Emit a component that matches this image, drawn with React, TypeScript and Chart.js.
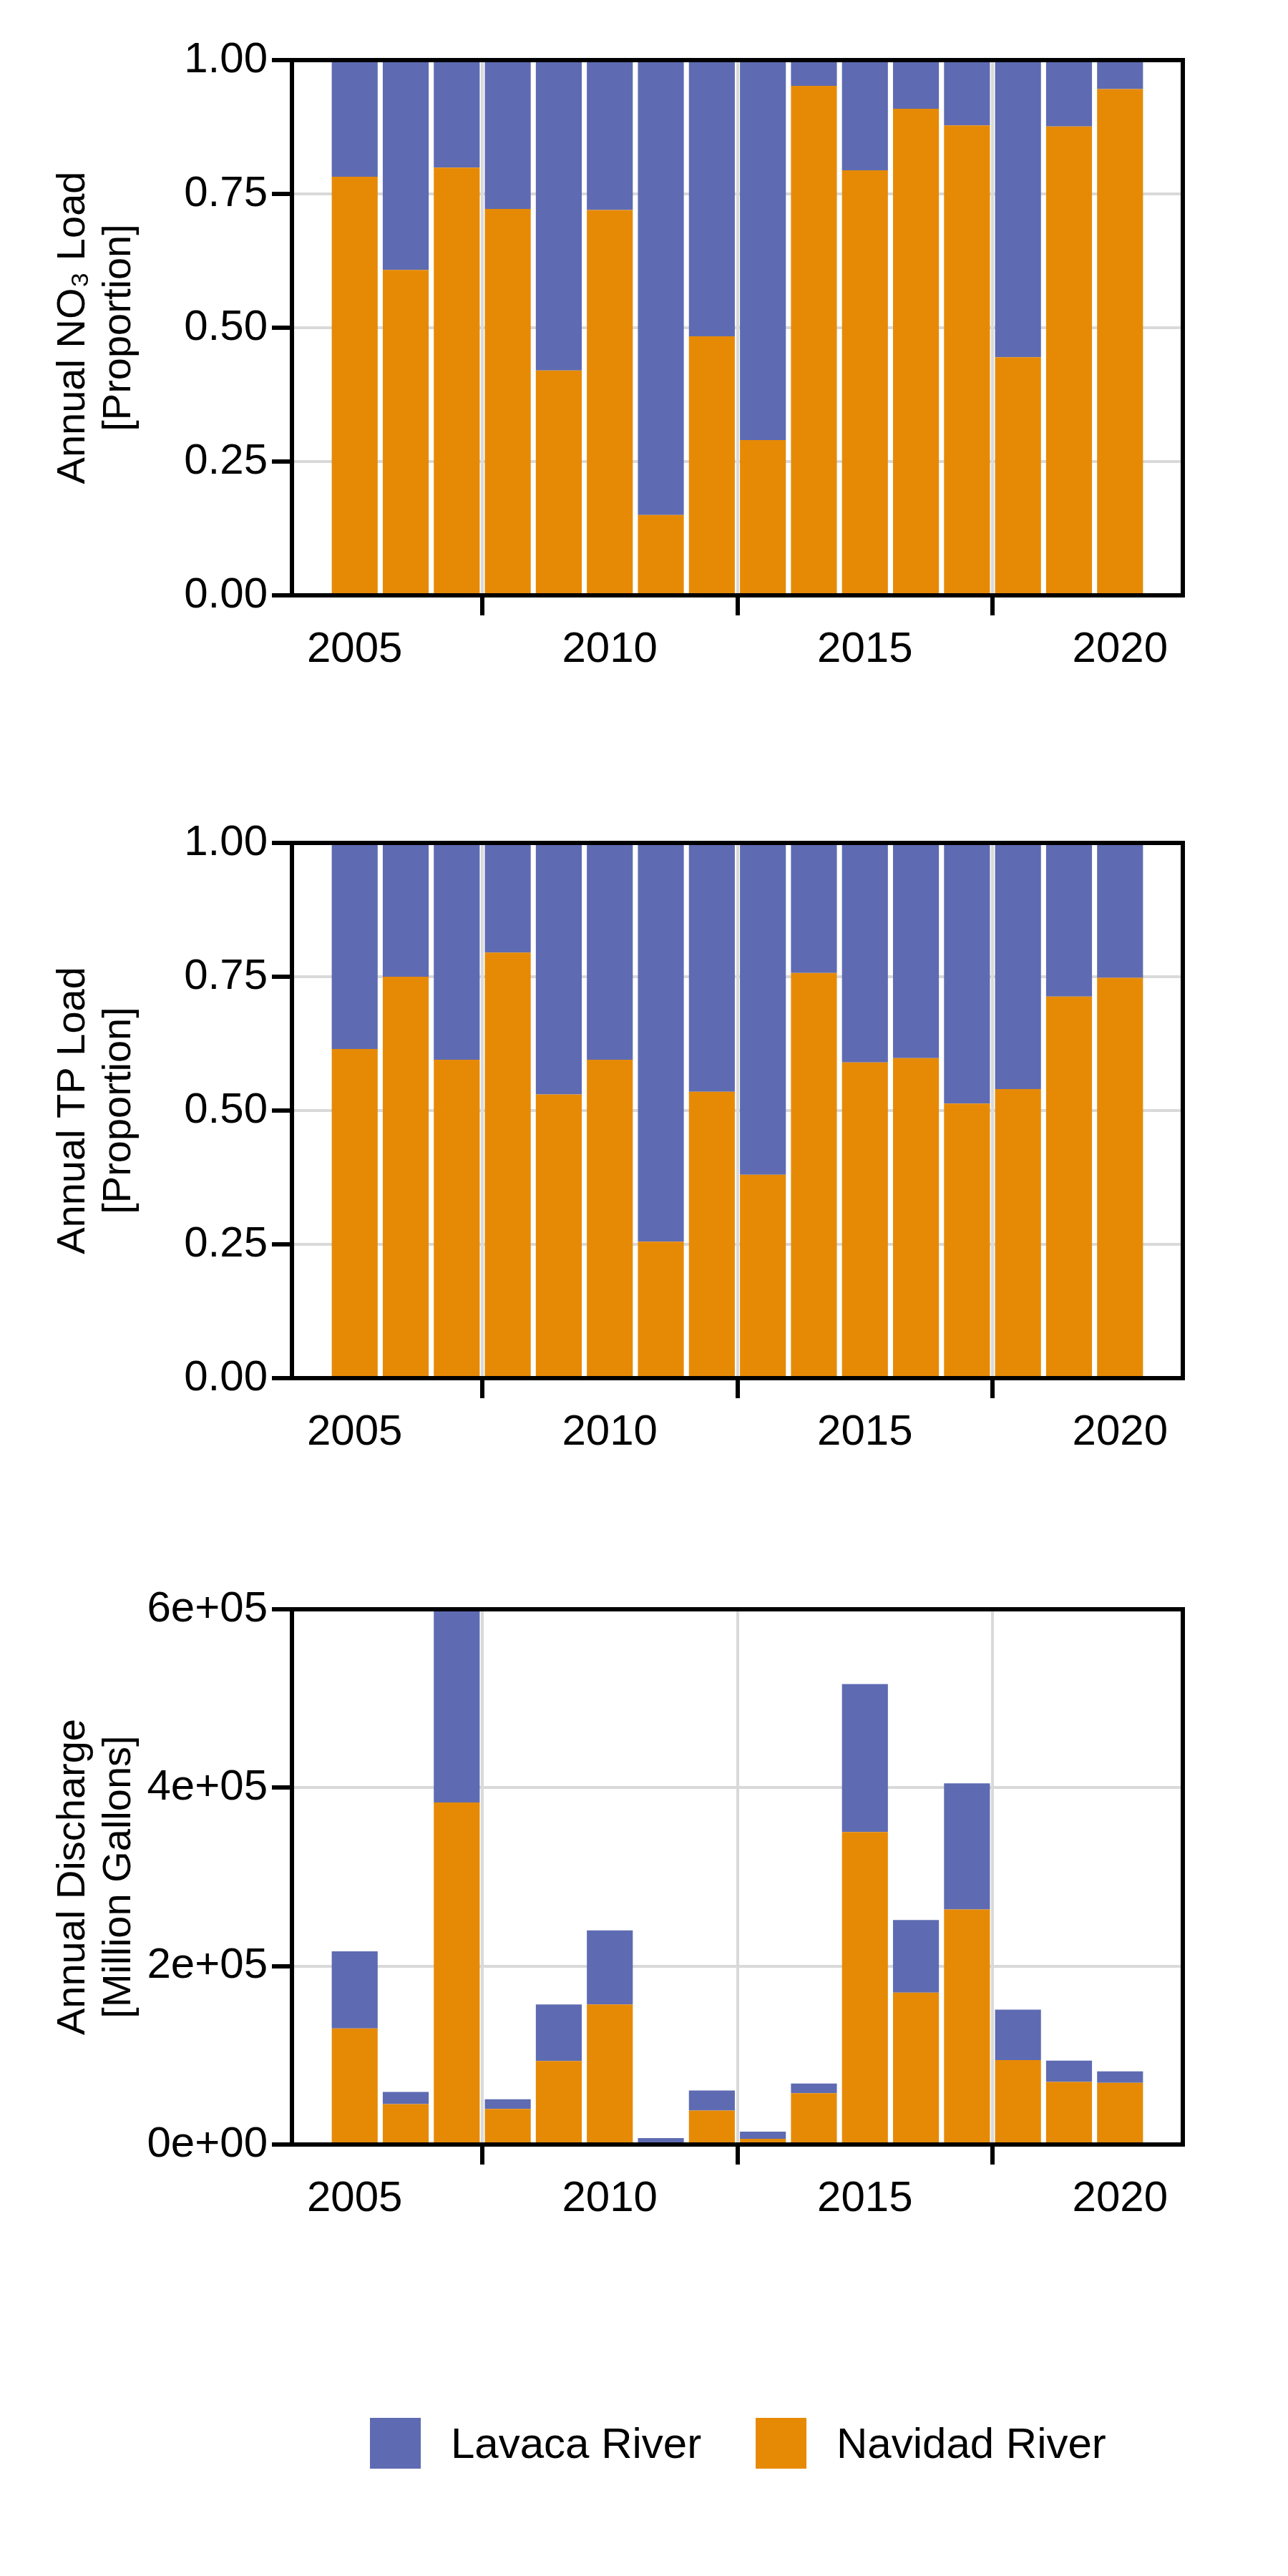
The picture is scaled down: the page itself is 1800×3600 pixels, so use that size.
import { useEffect, useRef } from "react";
import { Chart, registerables } from "chart.js";
Chart.register(...registerables);

const years = [2005, 2006, 2007, 2008, 2009, 2010, 2011, 2012, 2013, 2014, 2015, 2016, 2017, 2018, 2019, 2020];
const no3Navidad = [0.782, 0.608, 0.799, 0.722, 0.42, 0.72, 0.15, 0.484, 0.29, 0.952, 0.794, 0.909, 0.878, 0.445, 0.876, 0.946];
const tpNavidad = [0.615, 0.75, 0.595, 0.795, 0.53, 0.595, 0.255, 0.535, 0.38, 0.757, 0.59, 0.598, 0.513, 0.54, 0.713, 0.748];
const flowNavidad = [133300, 46400, 393000, 41000, 96000, 161000, 1500, 39000, 6600, 59000, 359000, 174500, 270000, 97000, 72000, 71000];
const flowTotal = [222000, 60400, 650000, 52000, 161000, 246000, 7400, 62000, 14700, 70000, 529000, 258000, 415000, 155000, 96500, 84000];

const LAVACA = "#5e6bb2";
const NAVIDAD = "#e68a06";
const TICK_FONT = { family: "'Liberation Sans Narrow', 'Liberation Sans', Arial", size: 60 };
const TITLE_FONT = { family: "'Liberation Sans', Arial", size: 56, lineHeight: 1.15 };

const boxPlugin = {
  id: "box",
  afterDraw(chart: Chart) {
    const { ctx, chartArea: a } = chart;
    ctx.save();
    ctx.strokeStyle = "black";
    ctx.lineWidth = 6;
    ctx.strokeRect(a.left, a.top, a.right - a.left, a.bottom - a.top);
    ctx.restore();
  },
};

type PanelProps = {
  top: number;
  navidad: number[];
  lavaca: number[];
  title: string[];
  yMax: number;
  yStep: number;
  fmt: (v: number) => string;
};

const Panel = ({ top, navidad, lavaca, title, yMax, yStep, fmt }: PanelProps) => {
  const ref = useRef<HTMLCanvasElement | null>(null);
  useEffect(() => {
    if (!ref.current) return;
    const grid = { color: "#d9d9d9", lineWidth: 4, borderDash: [4, 14], tickColor: "black", tickWidth: 6, tickLength: 28 };
    const chart = new Chart(ref.current, {
      type: "bar",
      data: {
        datasets: [
          { label: "Navidad River", data: years.map((y, i) => ({ x: y, y: navidad[i] })), backgroundColor: NAVIDAD, barPercentage: 0.9, categoryPercentage: 1 },
          { label: "Lavaca River", data: years.map((y, i) => ({ x: y, y: lavaca[i] })), backgroundColor: LAVACA, barPercentage: 0.9, categoryPercentage: 1 },
        ],
      },
      options: {
        animation: false,
        responsive: false,
        layout: { padding: { left: 70, right: 147, top: 84, bottom: 0 } },
        plugins: { legend: { display: false }, tooltip: { enabled: false } },
        scales: {
          x: {
            type: "linear",
            stacked: true,
            offset: false,
            min: 2003.77,
            max: 2021.23,
            afterBuildTicks: (s: any) => { s.ticks = [2005, 2010, 2015, 2020].map((v) => ({ value: v })); },
            ticks: { color: "black", font: TICK_FONT, padding: 12, callback: (v: any) => String(v) },
            grid,
            border: { display: false },
            afterFit: (s: any) => { s.height = 268; },
          },
          y: {
            stacked: true,
            min: 0,
            max: yMax,
            ticks: { stepSize: yStep, color: "black", font: TICK_FONT, padding: 6, callback: (v: any) => fmt(Number(v)) },
            grid,
            border: { display: false },
            title: { display: true, text: title, color: "black", font: TITLE_FONT, padding: 0 },
            afterFit: (s: any) => { s.width = 338; },
          },
        },
      },
      plugins: [boxPlugin],
    });
    return () => chart.destroy();
  }, []);
  return <canvas ref={ref} width={1800} height={1100} style={{ position: "absolute", left: 0, top, width: 1800, height: 1100 }} />;
};

const fixed = (v: number) => v.toFixed(2);
const sci = (v: number) => {
  if (v === 0) return "0e+00";
  const e = Math.floor(Math.log10(v));
  return `${Math.round(v / 10 ** e)}e+${String(e).padStart(2, "0")}`;
};

const legendItem = (color: string, text: string, left: number) => (
  <div style={{ position: "absolute", left, top: 3379, display: "flex", alignItems: "center" }}>
    <div style={{ width: 71, height: 71, background: color }} />
    <span style={{ marginLeft: 42, fontFamily: "'Liberation Sans Narrow', 'Liberation Sans', Arial", fontSize: 60, color: "black" }}>{text}</span>
  </div>
);

export default function App() {
  return (
    <div style={{ position: "absolute", left: 0, top: 0, width: 1800, height: 3600, background: "white" }}>
      <Panel top={0} navidad={no3Navidad} lavaca={no3Navidad.map((v) => 1 - v)} title={["Annual NO\u2083 Load", "[Proportion]"]} yMax={1} yStep={0.25} fmt={fixed} />
      <Panel top={1094} navidad={tpNavidad} lavaca={tpNavidad.map((v) => 1 - v)} title={["Annual TP Load", "[Proportion]"]} yMax={1} yStep={0.25} fmt={fixed} />
      <Panel top={2165} navidad={flowNavidad} lavaca={flowTotal.map((t, i) => t - flowNavidad[i])} title={["Annual Discharge", "[Million Gallons]"]} yMax={615000} yStep={200000} fmt={sci} />
      {legendItem(LAVACA, "Lavaca River", 517)}
      {legendItem(NAVIDAD, "Navidad River", 1056)}
    </div>
  );
}
